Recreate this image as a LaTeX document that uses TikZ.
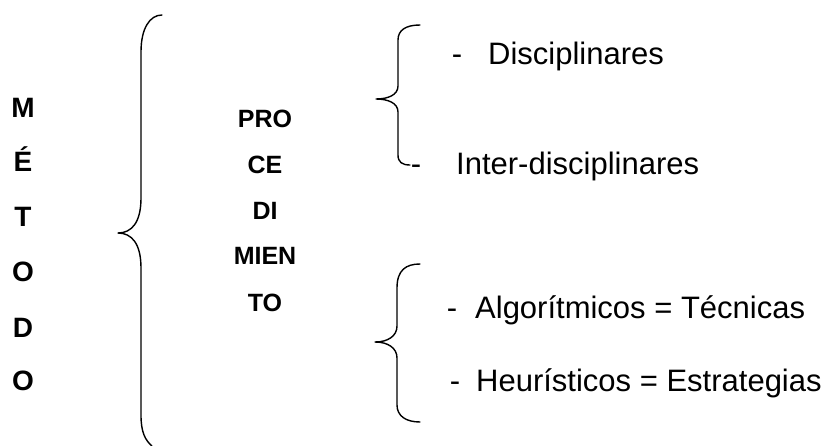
\documentclass[tikz,border=0pt]{standalone}
\usepackage{fontspec}
\setmainfont{Liberation Sans}
\begin{document}
\begin{tikzpicture}[x=1pt,y=-1pt,
  brace/.style={line width=1.4pt, line cap=round, line join=round},
  bigl/.style={font=\bfseries\fontsize{28}{28}\selectfont, inner sep=0pt, anchor=base},
  midl/.style={font=\bfseries\fontsize{25}{25}\selectfont, inner sep=0pt, anchor=base},
  item/.style={font=\fontsize{31}{31}\selectfont, inner sep=0pt, anchor=base west},
  dashl/.style={font=\fontsize{31}{31}\selectfont, inner sep=0pt, anchor=base}]
\useasboundingbox (0,0) rectangle (839,445);
% METODO column
\node[bigl] (m1) at (23,117) {M};
\node[bigl] (m2) at (23,171) {É};
\node[bigl] (m3) at (23,226) {T};
\node[bigl] (m4) at (23,281) {O};
\node[bigl] (m5) at (23,337) {D};
\node[bigl] (m6) at (23,390) {O};
% PROCEDIMIENTO column
\node[midl] (p1) at (265,127) {PRO};
\node[midl] (p2) at (265,173) {CE};
\node[midl] (p3) at (265,219) {DI};
\node[midl] (p4) at (265,264) {MIEN};
\node[midl] (p5) at (265,311) {TO};
% big brace
\draw[brace] (162,15) .. controls (150,15) and (141,28) .. (141,52)
  -- (141,198) .. controls (141,222) and (132,233) .. (118,233)
  .. controls (132,233) and (141,244) .. (141,268)
  -- (141,415) .. controls (141,432) and (145,440) .. (152,446);
% upper brace
\draw[brace] (420,25) .. controls (406,25) and (398,30) .. (398,40)
  -- (398,86) .. controls (398,95) and (388,99) .. (376,99)
  .. controls (388,99) and (398,103) .. (398,112)
  -- (398,155) .. controls (398,162) and (402,165) .. (410,165);
% lower brace
\draw[brace] (420,264) .. controls (406,264) and (397,270) .. (397,288)
  -- (397,326) .. controls (397,336) and (388,342) .. (375,342)
  .. controls (388,342) and (397,348) .. (397,358)
  -- (397,405) .. controls (397,416) and (406,422) .. (420,422);
% items
\node[dashl] (d1) at (457,64) {-};
\node[item] (t1) at (488,64) {Disciplinares};
\node[dashl] (d2) at (416,174) {-};
\node[item] (t2) at (456,174) {Inter-disciplinares};
\node[dashl] (d3) at (452,318) {-};
\node[item] (t3) at (475,318) {Algorítmicos = Técnicas};
\node[dashl] (d4) at (455,391) {-};
\node[item] (t4) at (476,391) {Heurísticos = Estrategias};
\end{tikzpicture}
\end{document}
